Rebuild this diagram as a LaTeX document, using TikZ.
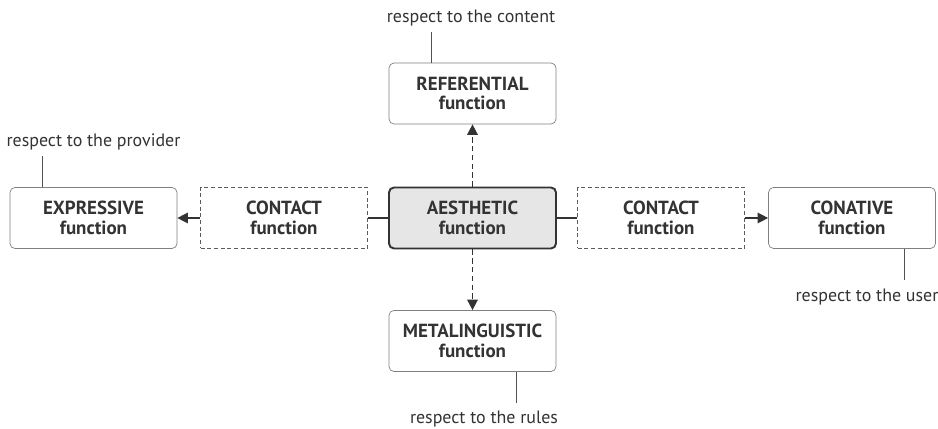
\documentclass[tikz,border=0pt]{standalone}
\usepackage{fontspec}
\setmainfont{PT Sans}
\usetikzlibrary{arrows.meta}

\definecolor{txtgray}{HTML}{333333}
\definecolor{boxgray}{HTML}{808080}
\definecolor{fillgray}{HTML}{E6E6E6}

\tikzset{
  fbox/.style={draw=boxgray,rounded corners=0.1cm,minimum width=3.34cm,minimum height=1.22cm,
    align=center,text=txtgray,font=\fontsize{10.8}{11}\selectfont\bfseries},
  cbox/.style={fbox,rounded corners=0pt,draw=txtgray!80,dashed,dash pattern=on 2.3pt off 1.5pt},
  abox/.style={fbox,draw=txtgray,fill=fillgray,line width=1.1pt},
  tag/.style={text=txtgray,font=\fontsize{10.2}{11}\selectfont,inner sep=1pt},
  link/.style={draw=txtgray,line width=0.8pt},
  arr/.style={link,-{Triangle[length=6pt,width=6pt]}},
  note/.style={draw=txtgray!85,line width=0.5pt}
}

\begin{document}
\begin{tikzpicture}
\useasboundingbox (0,0) rectangle (18.76,8.58);

% boxes
\node[abox] (aes) at (9.45,4.22) {AESTHETIC\\function};
\node[fbox] (ref) at (9.45,6.71) {REFERENTIAL\\function};
\node[fbox] (meta) at (9.45,1.76) {METALINGUISTIC\\function};
\node[cbox] (conl) at (5.68,4.22) {CONTACT\\function};
\node[cbox] (conr) at (13.22,4.22) {CONTACT\\function};
\node[fbox] (expr) at (1.87,4.22) {EXPRESSIVE\\function};
\node[fbox] (cona) at (17.04,4.22) {CONATIVE\\function};

% connectors
\draw[link] (aes) -- (conl);
\draw[link] (aes) -- (conr);
\draw[arr] (conl) -- (expr);
\draw[arr] (conr) -- (cona);
\draw[arr,line width=0.9pt,dashed,dash pattern=on 3pt off 2pt] (aes) -- (ref);
\draw[arr,line width=0.9pt,dashed,dash pattern=on 3pt off 2pt] (aes) -- (meta);

% labels
\node[tag] (tref) at (9.42,8.22) {respect to the content};
\node[tag] (texp) at (1.87,5.74) {respect to the provider};
\node[tag] (tcon) at (17.34,2.64) {respect to the user};
\node[tag] (tmet) at (9.68,0.2) {respect to the rules};
\coordinate (pref) at (8.62,7.94);
\coordinate (pexp) at (0.84,5.46);
\coordinate (pcon) at (18.08,2.98);
\coordinate (pmet) at (10.32,0.52);
\draw[note] (pref) -- (pref |- ref.north);
\draw[note] (pexp) -- (pexp |- expr.north);
\draw[note] (pcon) -- (pcon |- cona.south);
\draw[note] (pmet) -- (pmet |- meta.south);

\end{tikzpicture}
\end{document}
